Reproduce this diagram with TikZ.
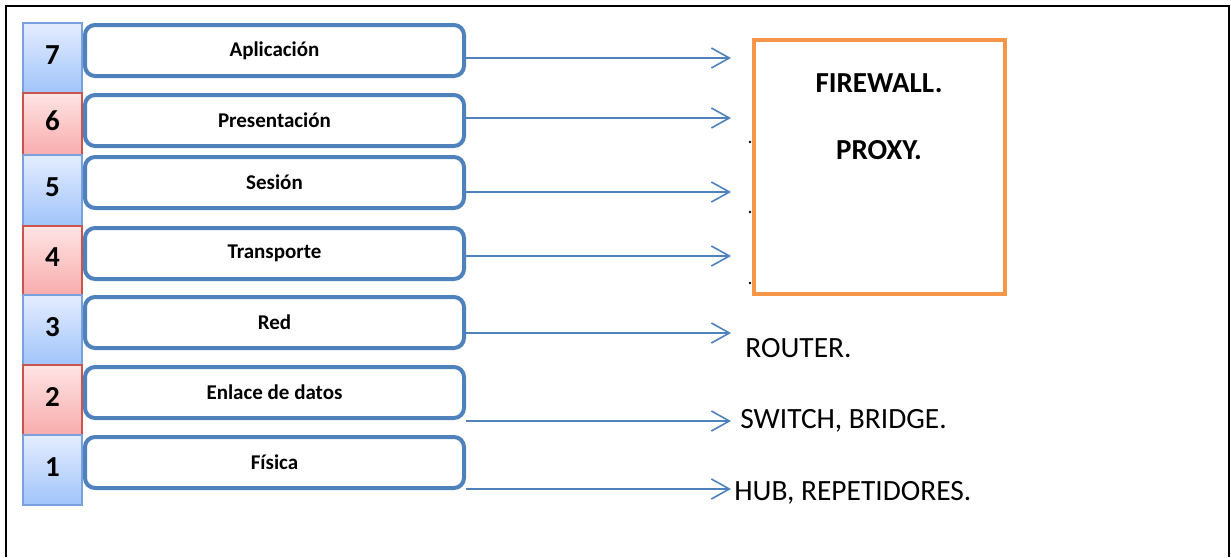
\documentclass[tikz,border=0pt]{standalone}
\usepackage{fontspec}
\setmainfont{Carlito}
\usepackage{tikz}
\usetikzlibrary{arrows.meta,positioning}
\definecolor{layerblue}{RGB}{79,129,189}
\definecolor{cellblue}{RGB}{120,160,220}
\definecolor{celltopb}{RGB}{228,237,255}
\definecolor{cellbotb}{RGB}{160,196,250}
\definecolor{cellred}{RGB}{200,85,80}
\definecolor{celltopr}{RGB}{255,228,228}
\definecolor{cellbotr}{RGB}{248,172,172}
\definecolor{fworange}{RGB}{247,150,70}

\begin{document}
\begin{tikzpicture}[
  x=0.5pt, y=-0.5pt,
  cellblue/.style={draw=cellblue, line width=0.8pt, top color=celltopb, bottom color=cellbotb},
  cellred/.style={draw=cellred, line width=0.8pt, top color=celltopr, bottom color=cellbotr},
  num/.style={font=\fontsize{14.5}{16}\selectfont\bfseries, inner sep=0pt},
  layer/.style={draw=layerblue, line width=2pt, rounded corners=5pt, fill=white,
    minimum width=189.5pt, minimum height=25.5pt, inner sep=0pt,
    font=\fontsize{10.5}{12}\selectfont\bfseries},
  link/.style={draw=layerblue, line width=0.8pt, -{Straight Barb[length=9pt,width=10pt]}},
  dev/.style={anchor=base west, inner sep=0pt, font=\fontsize{14.7}{16}\selectfont},
  fwtxt/.style={anchor=base, inner sep=0pt, font=\fontsize{14.5}{16}\selectfont\bfseries}
]
\useasboundingbox (0,0) rectangle (1231,557);
% marco
\draw[line width=1.3pt] (6,557) -- (6,6) -- (1229,6) -- (1229,557);

% capas OSI
\foreach \n/\top/\bot/\lname/\ay/\col in {7/23/93/Aplicación/58/cellblue,
    6/93/155/Presentación/118/cellred, 5/155/226/Sesión/192/cellblue,
    4/226/295/Transporte/256/cellred, 3/295/365/Red/333/cellblue,
    2/365/435/Enlace de datos/421/cellred, 1/435/505/Física/489/cellblue} {
  \path[\col] (23,\top) rectangle (82,\bot);
  \node[num] (n\n) at (52.5,{(\top+\bot)/2-3}) {\n};
  \node[layer] (l\n) at (274.5,\top+27.5) {\lname};
  \coordinate (a\n) at (731,\ay);
  \draw[link] (l\n.east |- a\n) -- (a\n);
}

% dispositivos
\node[draw=fworange, line width=2pt, minimum width=125.5pt, minimum height=127pt, inner sep=0pt] (fw) at (879.5,167) {};
\node[fwtxt] (firewall) at (879,92) {FIREWALL.};
\node[fwtxt] (proxy) at (879,159) {PROXY.};
\fill (750,142) circle (1.4);
\fill (750,212) circle (1.4);
\fill (750,283) circle (1.4);

\node[dev] (router) at (745,357) {ROUTER.};
\node[dev] (switch) at (740,428) {SWITCH, BRIDGE.};
\node[dev] (hub) at (734,500) {HUB, REPETIDORES.};
\end{tikzpicture}
\end{document}
